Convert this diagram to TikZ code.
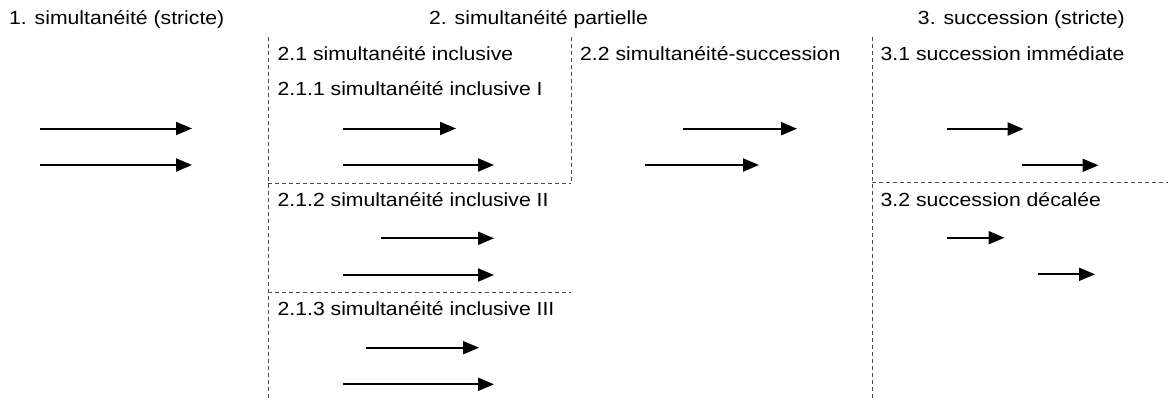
\documentclass[tikz,border=0pt]{standalone}
\usepackage{fontspec}
\setmainfont{Liberation Sans}
\usetikzlibrary{arrows.meta}
% slightly widened sans text
\newcommand\widetxt[1]{\scalebox{1.115}[1]{#1}}
\begin{document}
\begin{tikzpicture}[x=1pt,y=-1pt,
  lbl/.style={inner sep=0pt, anchor=base west, font=\fontsize{19}{22}\selectfont},
  lblr/.style={lbl, anchor=base east},
  span/.style={-{Triangle[length=16pt,width=13pt]}, line width=2pt, black},
  sep/.style={black!70, line width=0.9pt, dash pattern=on 4pt off 3pt}]
\useasboundingbox[fill=white] (0,0) rectangle (1168,400);

% column separators
\draw[sep] (268,37) -- (268,400);
\draw[sep] (571,37) -- (571,183);
\draw[sep] (872,37) -- (872,400);
\draw[sep] (268,183) -- (571,183);
\draw[sep] (268,292) -- (571,292);
\draw[sep] (872,182) -- (1168,182);

% headings
\node[lbl]  (h1) at (9,24.5)    {\widetxt{1. simultanéité (stricte)}};
\node[lbl]  (h2) at (429,24.5)  {\widetxt{2. simultanéité partielle}};
\node[lblr] (h3) at (1125,24.5) {\widetxt{3. succession (stricte)}};

% sub-headings
\node[lbl] (t21)  at (277.5,60.5) {\widetxt{2.1 simultanéité inclusive}};
\node[lbl] (t211) at (277.5,95)   {\widetxt{2.1.1 simultanéité inclusive I}};
\node[lbl] (t212) at (277.5,206)  {\widetxt{2.1.2 simultanéité inclusive II}};
\node[lbl] (t213) at (277.5,315.5){\widetxt{2.1.3 simultanéité inclusive III}};
\node[lbl] (t22)  at (580,60.5)   {\widetxt{2.2 simultanéité-succession}};
\node[lbl] (t31)  at (880.5,60.5) {\widetxt{3.1 succession immédiate}};
\node[lbl] (t32)  at (880.5,206)  {\widetxt{3.2 succession décalée}};

% 1. simultaneity
\coordinate (a1s) at (40,128.5);  \coordinate (a1e) at (192,128.5);
\coordinate (b1s) at (40,165);    \coordinate (b1e) at (192,165);
\draw[span] (a1s) -- (a1e);
\draw[span] (b1s) -- (b1e);

% 2.1.1
\coordinate (a211s) at (343,128.5); \coordinate (a211e) at (456,128.5);
\coordinate (b211s) at (343,165);   \coordinate (b211e) at (494,165);
\draw[span] (a211s) -- (a211e);
\draw[span] (b211s) -- (b211e);

% 2.1.2
\coordinate (a212s) at (381,238.3); \coordinate (a212e) at (494,238.3);
\coordinate (b212s) at (343,275);   \coordinate (b212e) at (494,275);
\draw[span] (a212s) -- (a212e);
\draw[span] (b212s) -- (b212e);

% 2.1.3
\coordinate (a213s) at (366,347.7); \coordinate (a213e) at (479,347.7);
\coordinate (b213s) at (343,384.3); \coordinate (b213e) at (494,384.3);
\draw[span] (a213s) -- (a213e);
\draw[span] (b213s) -- (b213e);

% 2.2
\coordinate (a22s) at (683,128.7); \coordinate (a22e) at (797,128.7);
\coordinate (b22s) at (645,165);   \coordinate (b22e) at (759,165);
\draw[span] (a22s) -- (a22e);
\draw[span] (b22s) -- (b22e);

% 3.1
\coordinate (a31s) at (947,129);    \coordinate (a31e) at (1023.5,129);
\coordinate (b31s) at (1022,165.3); \coordinate (b31e) at (1098.5,165.3);
\draw[span] (a31s) -- (a31e);
\draw[span] (b31s) -- (b31e);

% 3.2
\coordinate (a32s) at (947,237.7);  \coordinate (a32e) at (1004.5,237.7);
\coordinate (b32s) at (1037.5,274.3); \coordinate (b32e) at (1095,274.3);
\draw[span] (a32s) -- (a32e);
\draw[span] (b32s) -- (b32e);
\end{tikzpicture}
\end{document}
